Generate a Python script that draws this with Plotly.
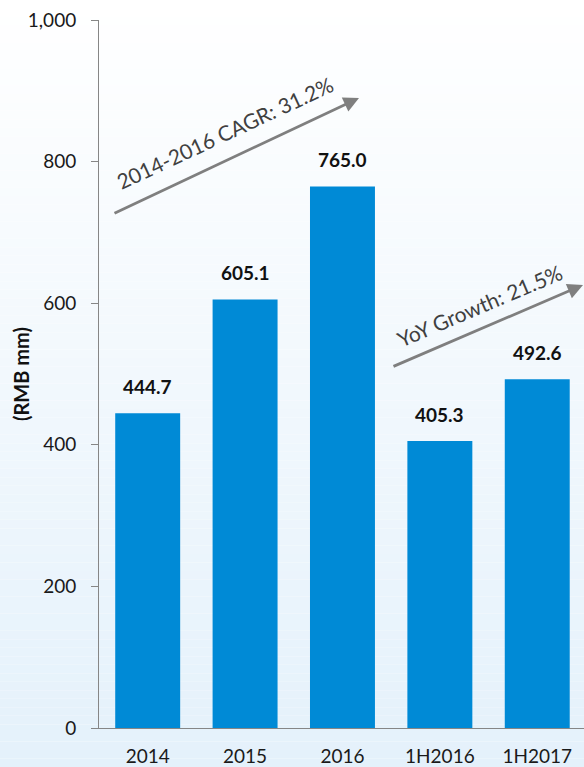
import plotly.graph_objects as go

categories = ["2014", "2015", "2016", "1H2016", "1H2017"]
values = [444.7, 605.1, 765.0, 405.3, 492.6]
value_labels = ["444.7", "605.1", "765.0", "405.3", "492.6"]
y_ticks = [0, 200, 400, 600, 800, 1000]
y_tick_labels = ["0", "200", "400", "600", "800", "1,000"]

W, H = 584, 767
L, R, T, B = 99, 0, 20, 39
pw, ph = W - L - R, H - T - B

def px2paper(x, y):
    return (x - L) / pw, (H - B - y) / ph

FONT = "Lato, Open Sans, sans-serif"
BAR = "#008AD6"

fig = go.Figure()
fig.add_trace(go.Bar(x=categories, y=values, marker=dict(color=BAR, line=dict(width=0)),
                     hoverinfo="skip"))

# gradient background strips
shapes = []
n = 90
top = 1 + T / ph
bot = -B / ph
for i in range(n):
    y0 = top - (top - bot) * i / n
    y1 = top - (top - bot) * (i + 1) / n
    t = (i + 0.5) / n
    r = round(255 - (255 - 228) * t)
    g = round(255 - (255 - 241) * t)
    b = round(255 - (255 - 251) * t)
    shapes.append(dict(type="rect", xref="paper", yref="paper", x0=-L / pw, x1=1.05,
                       y0=y1, y1=y0, fillcolor=f"rgb({r},{g},{b})", line=dict(width=0),
                       layer="below"))

annotations = []
for i, (v, lab) in enumerate(zip(values, value_labels)):
    annotations.append(dict(x=i, y=v, xref="x", yref="y", text=f"<b>{lab}</b>",
                            showarrow=False, yanchor="middle", yshift=27,
                            font=dict(family=FONT, size=19, color="#111111")))

# arrows
def arrow(tail, tip):
    xp, yp = px2paper(*tip)
    return dict(x=xp, y=yp, xref="paper", yref="paper", ax=tail[0] - tip[0], ay=tail[1] - tip[1],
                axref="pixel", ayref="pixel", showarrow=True, arrowhead=2, arrowsize=1.1,
                arrowwidth=2.8, arrowcolor="#7F7F7F", text="", standoff=0)

annotations.append(arrow((113, 214), (359, 98)))
annotations.append(arrow((392, 367), (588, 285)))

def label(text, center, angle):
    xp, yp = px2paper(*center)
    return dict(x=xp, y=yp, xref="paper", yref="paper", text=text, showarrow=False,
                textangle=angle, xanchor="center", yanchor="middle",
                font=dict(family=FONT, size=21, color="#404040"))

annotations.append(label("2014-2016 CAGR: 31.2%", (225, 133), -25))
annotations.append(label("YoY Growth: 21.5%", (479, 305), -23))

# y-axis title as rotated annotation
tx, ty = px2paper(21, 374)
annotations.append(dict(x=tx, y=ty, xref="paper", yref="paper", text="<b>(RMB mm)</b>",
                        showarrow=False, textangle=-90, xanchor="center", yanchor="middle",
                        font=dict(family=FONT, size=20, color="#111111")))

fig.update_layout(
    width=W, height=H,
    margin=dict(l=L, r=R, t=T, b=B, pad=0, autoexpand=False),
    paper_bgcolor="white", plot_bgcolor="rgba(0,0,0,0)",
    bargap=0.333, showlegend=False,
    shapes=shapes, annotations=annotations,
    font=dict(family=FONT, size=19, color="#1a1a1a"),
    xaxis=dict(type="category", range=[-0.5, 4.48], showline=True, linecolor="#868686",
               linewidth=1, ticks="", showgrid=False, zeroline=False, automargin=False,
               ticklabelstandoff=11,
               tickfont=dict(family=FONT, size=19, color="#1a1a1a")),
    yaxis=dict(range=[0, 1000], tickvals=y_ticks, ticktext=y_tick_labels, automargin=False,
               showline=True, linecolor="#868686", linewidth=1, ticks="outside",
               ticklen=7, tickcolor="#868686", showgrid=False, zeroline=False,
               ticklabelstandoff=11,
               tickfont=dict(family=FONT, size=19, color="#1a1a1a")),
)

fig.write_html("out.html", config={"displayModeBar": False},
               post_script="document.body.style.margin='0';document.body.style.overflow='hidden';")
